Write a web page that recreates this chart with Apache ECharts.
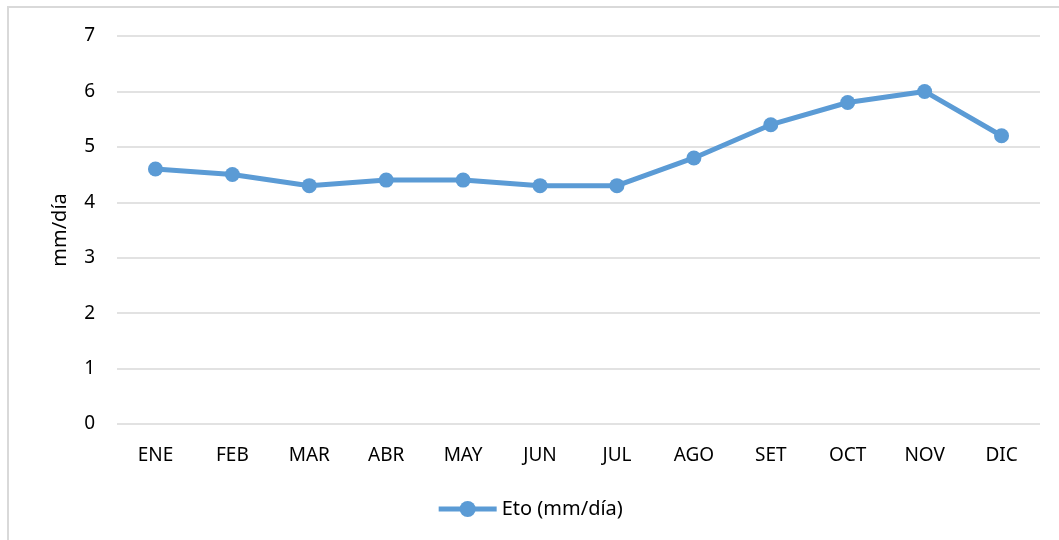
<!DOCTYPE html>
<html>
<head>
<meta charset="utf-8">
<style>
  html, body { margin: 0; padding: 0; background: #fff; }
  #main { width: 1059px; height: 540px; }
</style>
</head>
<body>
<div id="main"></div>
<script src="https://cdn.jsdelivr.net/npm/echarts@6/dist/echarts.min.js"></script>
<script>
// datos
var meses = ['ENE', 'FEB', 'MAR', 'ABR', 'MAY', 'JUN', 'JUL', 'AGO', 'SET', 'OCT', 'NOV', 'DIC'];
var eto = [4.6, 4.5, 4.3, 4.4, 4.4, 4.3, 4.3, 4.8, 5.4, 5.8, 6.0, 5.2];
var nombreSerie = 'Eto (mm/día)';

var myChart = echarts.init(document.getElementById('main'));
var fuente = 'Noto Sans';
var option = {
    animation: false,
    textStyle: { fontFamily: fuente },
    graphic: [{
        type: 'rect',
        shape: { x: 8, y: 7, width: 1060, height: 600 },
        style: { fill: 'none', stroke: '#d9d9d9', lineWidth: 2 },
        silent: true
    }],
    legend: {
        data: [{
            name: nombreSerie,
            lineStyle: { width: 5 }
        }],
        bottom: 16,
        left: 'center',
        itemWidth: 58,
        itemHeight: 20,
        itemGap: 6,
        textStyle: { fontSize: 20, color: '#000', fontFamily: fuente }
    },
    grid: {
        left: 117,
        right: 19,
        top: 36,
        bottom: 116
    },
    xAxis: {
        type: 'category',
        data: meses,
        axisLine: { show: false },
        axisTick: { show: false },
        axisLabel: { fontSize: 19, color: '#000', margin: 22, fontFamily: fuente }
    },
    yAxis: {
        type: 'value',
        min: 0,
        max: 7,
        interval: 1,
        name: 'mm/día',
        nameLocation: 'middle',
        nameGap: 47,
        nameTextStyle: { fontSize: 20, color: '#000', fontFamily: fuente },
        axisLabel: { fontSize: 19, color: '#000', margin: 22, fontFamily: fuente },
        splitLine: { lineStyle: { color: '#d9d9d9', width: 1.5 } }
    },
    series: [{
        name: nombreSerie,
        type: 'line',
        data: eto,
        symbol: 'circle',
        symbolSize: 15,
        itemStyle: { color: '#5b9bd5' },
        lineStyle: { color: '#5b9bd5', width: 5 }
    }]
};
myChart.setOption(option);
</script>
</body>
</html>
